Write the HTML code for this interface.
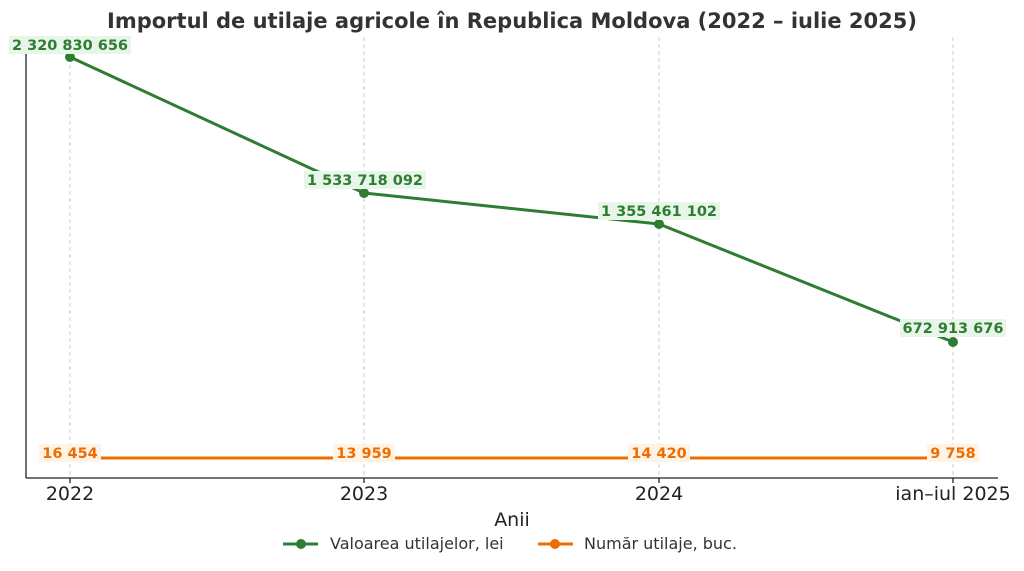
<!DOCTYPE html>
<html><head><meta charset="utf-8"><style>
body{margin:0;background:#fff;}
svg{display:block;font-family:"DejaVu Sans","Liberation Sans",sans-serif;}
</style></head><body>
<svg width="1024" height="571" viewBox="0 0 1024 571">
<text x="512" y="28" text-anchor="middle" font-size="21" font-weight="bold" fill="#333">Importul de utilaje agricole în Republica Moldova (2022 – iulie 2025)</text>
<g stroke="#ccc" stroke-dasharray="4,3" stroke-width="1">
<line x1="70" y1="37" x2="70" y2="478"/><line x1="364" y1="37" x2="364" y2="478"/>
<line x1="659" y1="37" x2="659" y2="478"/><line x1="953" y1="37" x2="953" y2="478"/>
</g>
<g stroke="#222" stroke-width="1.3">
<line x1="26" y1="53" x2="26" y2="478"/><line x1="26" y1="478" x2="998" y2="478"/>
<line x1="70" y1="478" x2="70" y2="483"/><line x1="364" y1="478" x2="364" y2="483"/>
<line x1="659" y1="478" x2="659" y2="483"/><line x1="953" y1="478" x2="953" y2="483"/>
</g>
<polyline points="70,57 364,193 659,224 953,342" fill="none" stroke="#2e7d32" stroke-width="3"/>
<g fill="#2e7d32"><circle cx="70" cy="57" r="5"/><circle cx="364" cy="193" r="5"/><circle cx="659" cy="224" r="5"/><circle cx="953" cy="342" r="5"/></g>
<line x1="70" y1="458" x2="953" y2="458" stroke="#ef6c00" stroke-width="3"/>
<g font-size="14.5" font-weight="bold" text-anchor="middle">
<rect x="9" y="36" width="122" height="18" fill="#e8f5e9"/><text x="70" y="50" fill="#2e7d32">2 320 830 656</text>
<rect x="304" y="171" width="122" height="18" fill="#e8f5e9"/><text x="365" y="185" fill="#2e7d32">1 533 718 092</text>
<rect x="598" y="202" width="122" height="18" fill="#e8f5e9"/><text x="659" y="216" fill="#2e7d32">1 355 461 102</text>
<rect x="900" y="319" width="106" height="18" fill="#e8f5e9"/><text x="953" y="333" fill="#2e7d32">672 913 676</text>
<rect x="39" y="444" width="62" height="18" fill="#fff3e6"/><text x="70" y="458" fill="#ef6c00">16 454</text>
<rect x="333" y="444" width="62" height="18" fill="#fff3e6"/><text x="364" y="458" fill="#ef6c00">13 959</text>
<rect x="628" y="444" width="62" height="18" fill="#fff3e6"/><text x="659" y="458" fill="#ef6c00">14 420</text>
<rect x="927" y="444" width="52" height="18" fill="#fff3e6"/><text x="953" y="458" fill="#ef6c00">9 758</text>
</g>
<g font-size="19" fill="#222" text-anchor="middle">
<text x="70" y="500">2022</text><text x="364" y="500">2023</text><text x="659" y="500">2024</text><text x="953" y="500">ian–iul 2025</text>
<text x="512" y="526">Anii</text>
</g>
<line x1="283" y1="544" x2="318" y2="544" stroke="#2e7d32" stroke-width="3"/><circle cx="301" cy="544" r="5" fill="#2e7d32"/>
<text x="330" y="549" font-size="16" fill="#333">Valoarea utilajelor, lei</text>
<line x1="538" y1="544" x2="573" y2="544" stroke="#ef6c00" stroke-width="3"/><circle cx="555" cy="544" r="5" fill="#ef6c00"/>
<text x="584" y="549" font-size="16" fill="#333">Număr utilaje, buc.</text>
</svg>
</body></html>
